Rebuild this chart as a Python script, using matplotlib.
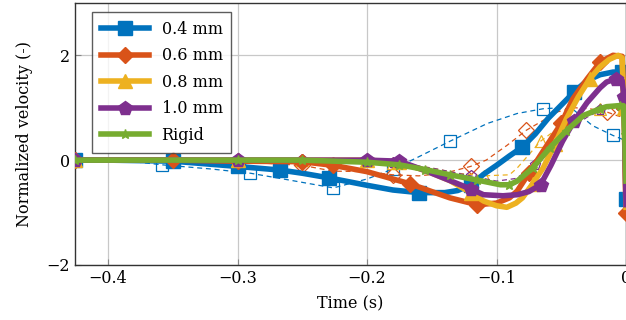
import numpy as np
import matplotlib
matplotlib.use("Agg")
import matplotlib.pyplot as plt

plt.rcParams["font.family"] = ["DejaVu Serif"]
plt.rcParams["mathtext.fontset"] = "dejavuserif"

# ----------------------------
# Data
# ----------------------------
t_04 = [-0.4255, -0.40, -0.35, -0.30, -0.267, -0.25, -0.229, -0.20, -0.18, -0.16, -0.14,
        -0.13, -0.12, -0.11, -0.10, -0.09, -0.08, -0.07, -0.06, -0.05, -0.04, -0.03,
        -0.02, -0.01, -0.003, -0.0015, 0.0]
v_04 = [0.0, 0.0, -0.02, -0.12, -0.19, -0.25, -0.34, -0.48, -0.57, -0.62, -0.62,
        -0.58, -0.48, -0.27, -0.10, 0.08, 0.25, 0.50, 0.80, 1.05, 1.30, 1.52,
        1.63, 1.68, 1.68, 1.2, -0.75]

t_06 = [-0.4255, -0.35, -0.30, -0.25, -0.226, -0.20, -0.18, -0.167, -0.15, -0.136, -0.115,
        -0.10, -0.09, -0.084, -0.075, -0.064, -0.05, -0.041, -0.03, -0.02, -0.01,
        -0.003, -0.0015, 0.0]
v_06 = [0.0, 0.0, -0.02, -0.03, -0.10, -0.22, -0.36, -0.45, -0.60, -0.72, -0.85,
        -0.82, -0.72, -0.59, -0.25, 0.17, 0.70, 1.17, 1.55, 1.87, 2.0,
        1.98, 1.0, -1.0]

t_08 = [-0.4255, -0.30, -0.20, -0.175, -0.155, -0.136, -0.12, -0.11, -0.10, -0.092, -0.085,
        -0.08, -0.072, -0.064, -0.055, -0.046, -0.037, -0.028, -0.02, -0.013, -0.006,
        -0.003, -0.0015, 0.0]
v_08 = [0.0, 0.0, 0.0, -0.04, -0.20, -0.39, -0.62, -0.78, -0.87, -0.90, -0.82,
        -0.72, -0.45, -0.15, 0.30, 0.79, 1.20, 1.55, 1.78, 1.92, 2.0,
        1.95, 1.0, -0.9]

t_10 = [-0.4255, -0.30, -0.20, -0.175, -0.155, -0.136, -0.12, -0.11, -0.095, -0.084, -0.075,
        -0.066, -0.058, -0.049, -0.04, -0.03, -0.02, -0.015, -0.008, -0.003, -0.0015, 0.0]
v_10 = [0.0, 0.0, 0.0, -0.02, -0.20, -0.39, -0.55, -0.66, -0.68, -0.66, -0.60,
        -0.47, -0.10, 0.36, 0.75, 1.10, 1.38, 1.49, 1.55, 1.52, 1.2, -0.85]

t_rig = [-0.4255, -0.30, -0.25, -0.20, -0.175, -0.155, -0.136, -0.115, -0.097, -0.09, -0.084,
         -0.072, -0.059, -0.046, -0.033, -0.02, -0.015, -0.005, -0.002, -0.001, 0.0]
v_rig = [0.0, 0.0, 0.0, -0.04, -0.09, -0.18, -0.28, -0.38, -0.47, -0.47, -0.40,
         -0.15, 0.23, 0.56, 0.85, 0.98, 1.02, 1.04, 1.04, 0.5, -0.4]

# dashed (hollow markers) counterparts
td_04 = [-0.4255, -0.38, -0.358, -0.32, -0.29, -0.26, -0.226, -0.20, -0.18, -0.162, -0.136,
         -0.107, -0.084, -0.064, -0.05, -0.04, -0.026, -0.010, -0.003, 0.0]
vd_04 = [0.0, -0.03, -0.09, -0.17, -0.25, -0.38, -0.53, -0.36, -0.17, 0.04, 0.36,
         0.70, 0.89, 0.98, 1.0, 0.95, 0.66, 0.47, 0.40, 0.3]

td_06 = [-0.4255, -0.30, -0.25, -0.226, -0.20, -0.18, -0.16, -0.14, -0.12, -0.108, -0.092,
         -0.077, -0.061, -0.053, -0.04, -0.028, -0.015, -0.007, 0.0]
vd_06 = [0.0, -0.03, -0.10, -0.21, -0.22, -0.28, -0.30, -0.25, -0.12, 0.0, 0.28,
         0.57, 0.80, 0.92, 1.0, 0.98, 0.92, 0.85, 0.8]

td_08 = [-0.4255, -0.25, -0.18, -0.15, -0.13, -0.11, -0.09, -0.084, -0.066, -0.053, -0.04,
         -0.03, -0.02, -0.01, 0.0]
vd_08 = [0.0, 0.0, -0.05, -0.15, -0.25, -0.30, -0.28, -0.15, 0.36, 0.60, 0.80,
         0.90, 0.97, 1.0, 0.95]

td_10 = [-0.4255, -0.25, -0.18, -0.15, -0.12, -0.10, -0.085, -0.07, -0.053, -0.04, -0.03,
         -0.02, -0.01, 0.0]
vd_10 = [0.0, 0.0, -0.05, -0.15, -0.30, -0.40, -0.35, -0.10, 0.38, 0.65, 0.82,
         0.95, 1.0, 0.9]

labels = ["0.4 mm", "0.6 mm", "0.8 mm", "1.0 mm", "Rigid"]
colors = ["#0072BD", "#D95319", "#EDB120", "#7E2F8E", "#77AC30"]
markers = ["s", "D", "^", "p", "*"]
msizes = [9.5, 8.5, 9.5, 10.5, 6.5]
mevery = [0.11, 0.11, 0.11, 0.11, 0.045]

xticks = [-0.4, -0.3, -0.2, -0.1, 0.0]
yticks = [-2, 0, 2]

# ----------------------------
# Plot
# ----------------------------
fig = plt.figure(figsize=(6.26, 3.2), dpi=100)
ax = fig.add_axes([0.1198, 0.172, 0.8802, 0.819])

solid = [(t_04, v_04), (t_06, v_06), (t_08, v_08), (t_10, v_10), (t_rig, v_rig)]
dashed = [(td_04, vd_04), (td_06, vd_06), (td_08, vd_08), (td_10, vd_10)]

for (t, v), c, m in zip(dashed, colors, markers):
    ax.plot(t, v, "--", color=c, lw=0.9, dashes=(4, 3), marker=m, ms=8,
            mfc="none", mec=c, mew=0.9, markevery=0.13, zorder=2)

for (t, v), c, m, ms, me, lab in zip(solid, colors, markers, msizes, mevery, labels):
    ax.plot(t, v, "-", color=c, lw=4, marker=m, ms=ms, mfc=c, mec=c,
            markevery=me, label=lab, zorder=3)

ax.set_xlim(-0.4255, 0.0)
ax.set_ylim(-2, 3)
ax.set_xticks(xticks)
ax.set_xticklabels(["\u22120.4", "\u22120.3", "\u22120.2", "\u22120.1", "0"])
ax.set_yticks(yticks)
ax.set_yticklabels(["\u22122", "0", "2"])
ax.grid(True, color="#c8c8c8", lw=0.9)
ax.set_axisbelow(True)
ax.tick_params(direction="in", length=4, color="#888888", labelsize=11.5)
for s in ax.spines.values():
    s.set_color("#333333")
    s.set_linewidth(1.0)

ax.set_xlabel("Time (s)", fontsize=11.5, labelpad=6)
ax.set_ylabel("Normalized velocity (-)", fontsize=11.5, labelpad=10)

leg = ax.legend(loc="upper left", bbox_to_anchor=(0.031, 0.966), borderaxespad=0,
                fontsize=11.5, frameon=True, fancybox=False, edgecolor="#333333",
                handlelength=3.0, labelspacing=0.6, borderpad=0.55)
leg.get_frame().set_linewidth(1.0)

fig.savefig("out.png", dpi=100)
